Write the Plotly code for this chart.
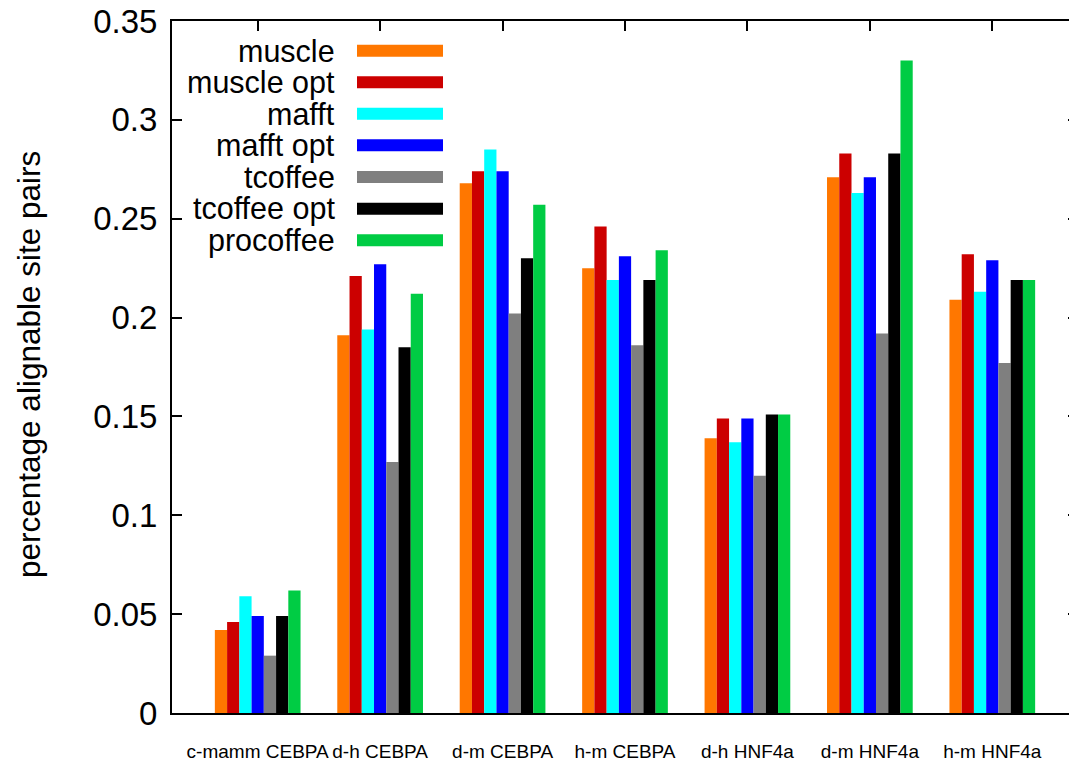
import plotly.graph_objects as go

categories = ["c-mamm CEBPA", "d-h CEBPA", "d-m CEBPA", "h-m CEBPA", "d-h HNF4a", "d-m HNF4a", "h-m HNF4a"]
series_names = ["muscle", "muscle opt", "mafft", "mafft opt", "tcoffee", "tcoffee opt", "procoffee"]
muscle      = [0.042, 0.191, 0.268, 0.225, 0.139, 0.271, 0.209]
muscle_opt  = [0.046, 0.221, 0.274, 0.246, 0.149, 0.283, 0.232]
mafft       = [0.059, 0.194, 0.285, 0.219, 0.137, 0.263, 0.213]
mafft_opt   = [0.049, 0.227, 0.274, 0.231, 0.149, 0.271, 0.229]
tcoffee     = [0.029, 0.127, 0.202, 0.186, 0.120, 0.192, 0.177]
tcoffee_opt = [0.049, 0.185, 0.230, 0.219, 0.151, 0.283, 0.219]
procoffee   = [0.062, 0.212, 0.257, 0.234, 0.151, 0.330, 0.219]
series_values = [muscle, muscle_opt, mafft, mafft_opt, tcoffee, tcoffee_opt, procoffee]
colors = ["#FF7700", "#CC0000", "#00FFFF", "#0000FF", "#7F7F7F", "#000000", "#00CC44"]
y_tickvals = [0, 0.05, 0.1, 0.15, 0.2, 0.25, 0.3, 0.35]
y_ticktext = ["0", "0.05", "0.1", "0.15", "0.2", "0.25", "0.3", "0.35"]
y_title = "percentage alignable site pairs"

FONT = "Liberation Sans, Arial, Helvetica, sans-serif"
W, H = 1080, 762
L, R, T, B = 172, 2, 21, 49
PW, PH = W - L - R, H - T - B

fig = go.Figure()
for name, vals, col in zip(series_names, series_values, colors):
    fig.add_trace(go.Bar(x=categories, y=vals, name=name, marker=dict(color=col, line=dict(width=0)),
                         showlegend=False))

# invisible trace so the top tick axis is drawn
fig.add_trace(go.Scatter(x=[0], y=[0], xaxis="x2", mode="markers", marker=dict(opacity=0),
                         showlegend=False, hoverinfo="skip"))

def px_x(px):
    return (px - L) / PW

def px_y(py):
    return 1 - (py - T) / PH

annotations = []
shapes = []
row_y = [50.7, 82.3, 113.7, 145.3, 177.0, 208.7, 240.3]
for name, col, ry in zip(series_names, colors, row_y):
    annotations.append(dict(text=name, xref="paper", yref="paper", x=px_x(337), y=px_y(ry),
                            xanchor="right", yanchor="middle", showarrow=False,
                            font=dict(family=FONT, size=30.5, color="black")))
    shapes.append(dict(type="rect", xref="paper", yref="paper", x0=px_x(357), x1=px_x(443),
                       y0=px_y(ry + 6), y1=px_y(ry - 6), fillcolor=col, line=dict(width=0)))

annotations.append(dict(text=y_title, xref="paper", yref="paper", x=px_x(29), y=px_y(365),
                        xanchor="center", yanchor="middle", textangle=-90, showarrow=False,
                        font=dict(family=FONT, size=31.5, color="black")))

fig.update_layout(
    width=W, height=H,
    margin=dict(l=L, r=R, t=T, b=B, pad=0, autoexpand=False),
    paper_bgcolor="white", plot_bgcolor="white",
    barmode="group", bargap=0.3, bargroupgap=0,
    font=dict(family=FONT, color="black"),
    annotations=annotations, shapes=shapes,
    xaxis=dict(type="category", range=[-0.7, 6.7], showline=True, linecolor="black", linewidth=2,
               mirror=True, ticks="", showgrid=False, zeroline=False, tickangle=0, automargin=False,
               tickfont=dict(family=FONT, size=19, color="black"), ticklabelstandoff=20),
    xaxis2=dict(overlaying="x", side="top", range=[-0.7, 6.7], tickvals=list(range(len(categories))),
                ticks="inside", ticklen=10, tickwidth=2, tickcolor="black", showticklabels=False,
                showline=False, showgrid=False, zeroline=False, automargin=False),
    yaxis=dict(range=[0, 0.35], tickvals=y_tickvals, ticktext=y_ticktext, ticks="inside", ticklen=10,
               tickwidth=2, tickcolor="black", showline=True, linecolor="black", linewidth=2,
               mirror="ticks", showgrid=False, zeroline=False, automargin=False,
               tickfont=dict(family=FONT, size=33, color="black"), ticklabelstandoff=6),
)

fig.write_html("out.html", config={"displayModeBar": False},
               post_script="document.body.style.margin='0';document.body.style.overflow='hidden';document.documentElement.style.overflow='hidden';")
